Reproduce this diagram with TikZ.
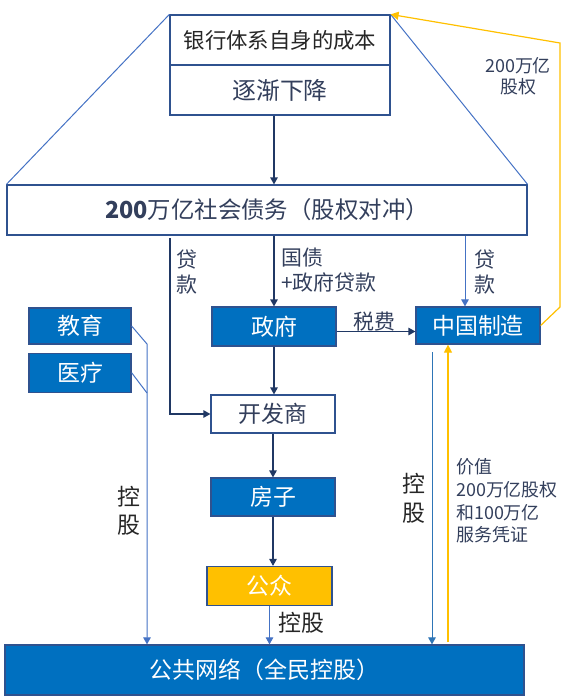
\documentclass[tikz,border=0pt]{standalone}
\usepackage{fontspec}
\setmainfont{Noto Sans CJK SC}
\usepackage{xcolor}
\usepackage{tikz}
\usetikzlibrary{positioning,arrows.meta,calc}
\definecolor{boxblue}{RGB}{0,112,192}
\definecolor{edgeblue}{RGB}{47,82,143}
\definecolor{lineblue}{RGB}{68,114,196}
\definecolor{midblue}{RGB}{46,117,182}
\definecolor{darknavy}{RGB}{32,56,100}
\definecolor{textnavy}{RGB}{51,63,92}
\definecolor{goldyellow}{RGB}{255,192,0}

\begin{document}
\begin{tikzpicture}[x=1bp, y=-1bp,
  whitebox/.style={rectangle, draw=edgeblue, line width=1.2bp, fill=white, text=textnavy, inner sep=0pt, minimum width=124bp, minimum height=38bp, font=\fontsize{23}{27}\selectfont},
  bluebox/.style={whitebox, fill=boxblue, text=white},
  lbl/.style={inner sep=0pt, text=textnavy, align=center, font=\fontsize{21}{25}\selectfont},
  ctl/.style={inner sep=0pt, text=black!85, align=center, font=\fontsize{23}{28}\selectfont},
  navyarrow/.style={draw=darknavy, line width=1.3bp, -{Triangle[length=7bp,width=7.5bp]}},
  bluearrow/.style={draw=lineblue, line width=1bp, -{Triangle[length=7bp,width=7.5bp]}},
  goldarrow/.style={draw=goldyellow, line width=1.2bp, -{Triangle[length=8bp,width=8bp]}}]
  \useasboundingbox (0,0) rectangle (570,699);

  % top block
  \node[whitebox, minimum width=220bp, minimum height=50bp, text=black!85, font=\fontsize{21.5}{26}\selectfont] (bank) at (280,40) {银行体系自身的成本};
  \node[whitebox, minimum width=220bp, minimum height=50bp, font=\fontsize{24}{28}\selectfont, below=-1.2bp of bank] (decline) {逐渐下降};
  \node[whitebox, minimum width=520bp, minimum height=50bp, font=\fontsize{23.5}{28}\selectfont] (debt) at (267,210) {\textbf{200}万亿社会债务（股权对冲）};
  \draw[lineblue, line width=1bp] (bank.north west) -- (debt.north west);
  \draw[lineblue, line width=1bp] (bank.north east) -- (debt.north east);

  % middle row
  \node[bluebox, minimum width=102bp, minimum height=36bp] (edu) at (80,326) {教育};
  \node[bluebox, minimum width=102bp, minimum height=39bp, below=8bp of edu] (med) {医疗};
  \node[bluebox, minimum height=39bp] (gov) at (274,326.5) {政府};
  \node[bluebox, minimum height=37bp] (mfg) at (478,325.5) {中国制造};
  \node[whitebox] (dev) at (273,414) {开发商};
  \node[bluebox] (house) at (273,497) {房子};
  \node[whitebox, fill=goldyellow, text=white, minimum width=125bp, minimum height=39bp] (pub) at (269.5,586) {公众};
  \node[bluebox, minimum width=519bp, minimum height=50bp] (net) at (264.5,670) {公共网络（全民控股）};

  \draw[navyarrow] (decline.south -| gov.north) -- (debt.north -| gov.north);

  % loans from the debt block
  \coordinate (loanL) at (170,238);
  \coordinate (mfgin) at ([xshift=-13bp]mfg.north);
  \draw[navyarrow] (loanL) |- (dev.west);
  \draw[navyarrow] (debt.south -| gov.north) -- (gov.north);
  \draw[bluearrow] (debt.south -| mfgin) -- (mfgin);
  \node[lbl] (lblloanL) at (187,272) {贷\\款};
  \node[lbl, align=left, anchor=west] (lblbond) at (281,270) {国债\\+政府贷款};
  \node[lbl] (lblloanR) at (485,272) {贷\\款};

  \draw[navyarrow] ([yshift=-5bp]gov.east) -- ([yshift=-5bp]gov.east -| mfg.west);
  \node[lbl] (lbltax) at (374,322) {税费};

  \draw[navyarrow] (gov.south) -- (gov.south |- dev.north);
  \draw[navyarrow] (dev.south) -- (dev.south |- house.north);
  \draw[navyarrow] (house.south) -- (house.south |- pub.north);

  % holdings into the network
  \coordinate (jointA) at (147,344);
  \coordinate (jointB) at (147,393);
  \draw[bluearrow] (edu.east) -- (jointA) -- (jointA |- net.north);
  \draw[lineblue, line width=1bp] (med.east) -- (jointB);
  \node[ctl] (lblctlL) at (129,511) {控\\股};

  \draw[bluearrow] (pub.south) -- (pub.south |- net.north);
  \node[ctl] (lblctlP) at (301,623) {控股};

  \coordinate (ctlR) at (432,352);
  \draw[bluearrow, draw=midblue, -{Triangle[length=7bp,width=7.5bp,fill=midblue]}] (ctlR) -- (ctlR |- net.north);
  \node[ctl, font=\fontsize{23}{29}\selectfont] (lblctlR) at (414,498) {控\\股};

  \coordinate (valR) at (448,642);
  \draw[goldarrow] (valR) -- (valR |- mfg.south);
  \node[lbl, align=left, anchor=west, font=\fontsize{18}{22.7}\selectfont] (lblvalue) at (456,501) {价值\\200万亿股权\\和100万亿\\服务凭证};

  % equity back to the banks
  \coordinate (yc1) at (560,307);
  \coordinate (yc2) at (560,43);
  \draw[goldarrow] (mfg.east) -- (yc1) -- (yc2) -- (bank.north east);
  \node[lbl, font=\fontsize{18}{21}\selectfont] (lblshare) at (518,76) {200万亿\\股权};
\end{tikzpicture}
\end{document}
